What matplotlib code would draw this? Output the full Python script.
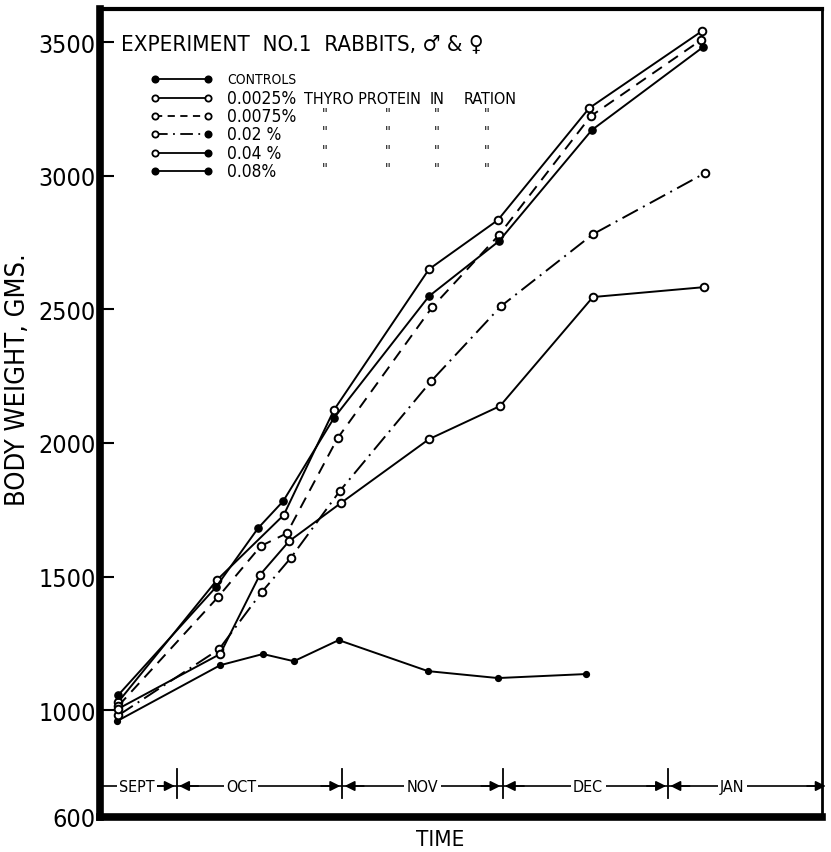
import matplotlib
matplotlib.use('Agg')
import matplotlib.pyplot as plt
from matplotlib.lines import Line2D

# ---------------- data (day 0 = Oct 1) ----------------
month_names = ['SEPT', 'OCT', 'NOV', 'DEC', 'JAN']
month_bounds = [0, 31, 61, 92]
yticks = [600, 1000, 1500, 2000, 2500, 3000, 3500]

controls_days = [-11.2, 8.1, 16.1, 21.9, 30.3, 47.0, 60.1, 76.6]
controls = [959, 1168, 1210, 1183, 1262, 1146, 1120, 1135]

p0025_days = [-11.0, 7.5, 20.0, 29.4, 47.2, 60.1, 77.2, 98.3]
p0025 = [1030, 1487, 1730, 2123, 2650, 2834, 3253, 3541]

p0075_days = [-11.0, 7.7, 15.7, 20.6, 30.1, 47.8, 60.3, 77.5, 98.1]
p0075 = [1015, 1423, 1614, 1662, 2018, 2508, 2778, 3223, 3507]

p02_days = [-11.0, 7.9, 15.9, 21.3, 30.5, 47.6, 60.7, 77.9, 98.9]
p02 = [980, 1228, 1442, 1569, 1820, 2231, 2512, 2781, 3010]

p04_days = [-11.0, 8.1, 15.5, 21.0, 30.7, 47.2, 60.5, 77.9, 98.7]
p04 = [1005, 1210, 1505, 1632, 1775, 2014, 2138, 2546, 2583]

p08_days = [-11.0, 7.3, 15.2, 19.9, 29.4, 47.2, 60.3, 77.7, 98.5]
p08 = [1056, 1460, 1681, 1782, 2093, 2549, 2755, 3171, 3481]

legend_labels = ['CONTROLS', '0.0025%', '0.0075%', '0.02 %', '0.04 %', '0.08%']

plt.rcParams['font.family'] = ['DejaVu Sans']
plt.rcParams['font.stretch'] = 'condensed'

W, H = 831, 853
fig = plt.figure(figsize=(W / 100, H / 100), dpi=100)
fig.patch.set_facecolor('white')

def fx(px):
    return px / W

def fy(py):
    return 1 - py / H

ax = fig.add_axes([fx(100), fy(818), fx(822) - fx(100), fy(10) - fy(818)])
ax.set_xlim(-14.4, 120.8)
ax.set_ylim(600, 3624)

for s, lw in [('left', 5.5), ('bottom', 5.5), ('top', 3.0), ('right', 2.0)]:
    ax.spines[s].set_linewidth(lw)
    ax.spines[s].set_color('black')

ax.set_xticks([])
ax.set_yticks(yticks)
ax.set_yticklabels([str(v) for v in yticks], fontsize=18)
ax.tick_params(axis='y', direction='in', length=10, width=1.5, pad=3)

lw = 1.4
ax.plot(controls_days, controls, color='black', lw=lw, marker='o', ms=4.2,
        mfc='black', mec='black')
ax.plot(p0025_days, p0025, color='black', lw=lw, marker='o', ms=5.5,
        mfc='white', mec='black', mew=1.4)
ax.plot(p0075_days, p0075, color='black', lw=lw, ls=(0, (6, 4)), marker='o', ms=5.5,
        mfc='white', mec='black', mew=1.4)
ax.plot(p02_days, p02, color='black', lw=lw, ls=(0, (9, 3, 1, 3)), marker='o', ms=5.5,
        mfc='white', mec='black', mew=1.4)
ax.plot(p04_days, p04, color='black', lw=lw, marker='o', ms=5.5,
        mfc='white', mec='black', mew=1.4)
ax.plot(p08_days, p08, color='black', lw=lw, marker='o', ms=5.2,
        mfc='black', mec='black')

# ---------------- month band ----------------
yb = 716
ax.plot([-14.4, 119.5], [yb, yb], color='black', lw=1.2, clip_on=False, zorder=3)
for b in month_bounds:
    ax.plot([b, b], [672, 780], color='black', lw=1.3, zorder=3)
label_days = [-7.5, 12, 46, 77, 104]
for name, xd in zip(month_names, label_days):
    ax.text(xd, yb, name, ha='center', va='center', fontsize=11.5, zorder=5,
            bbox=dict(boxstyle='square,pad=0.15', fc='white', ec='none'))
ap = dict(arrowstyle='-|>', mutation_scale=15, lw=1.2, color='black',
          shrinkA=0, shrinkB=0)
for b in month_bounds:
    ax.annotate('', xy=(b - 0.4, yb), xytext=(b - 4, yb), arrowprops=ap, zorder=4)
    ax.annotate('', xy=(b + 0.4, yb), xytext=(b + 4, yb), arrowprops=ap, zorder=4)
ax.annotate('', xy=(121.5, yb), xytext=(118, yb), arrowprops=ap, zorder=4,
            annotation_clip=False)

# ---------------- labels ----------------
fig.text(fx(18), fy(380), 'BODY WEIGHT, GMS.', rotation=90, ha='center', va='center',
         fontsize=19.5)
fig.text(fx(440), fy(840), 'TIME', ha='center', va='center', fontsize=16)
fig.text(fx(121), fy(44), 'EXPERIMENT  NO.1  RABBITS, \u2642 & \u2640', ha='left',
         va='center', fontsize=16)

# ---------------- legend ----------------
rows_y = [80, 99, 117, 135, 154, 172]
styles = [('-', 'black', 'black'), ('-', 'white', 'white'), ((0, (4, 3)), 'white', 'white'),
          ((0, (7, 3, 1, 3)), 'white', 'black'), ('-', 'white', 'black'),
          ('-', 'black', 'black')]
sizes = [10, 12.5, 12.5, 12.5, 12.5, 12.5]
for ry, (ls, lf, rf), lab, fs in zip(rows_y, styles, legend_labels, sizes):
    fig.add_artist(Line2D([fx(155), fx(208)], [fy(ry), fy(ry)], color='black', lw=1.3,
                          ls=ls, transform=fig.transFigure))
    fig.add_artist(Line2D([fx(155)], [fy(ry)], marker='o', ms=4.5, mfc=lf, mec='black',
                          mew=1.3, transform=fig.transFigure))
    fig.add_artist(Line2D([fx(208)], [fy(ry)], marker='o', ms=4.5, mfc=rf, mec='black',
                          mew=1.3, transform=fig.transFigure))
    fig.text(fx(227), fy(ry), lab, ha='left', va='center', fontsize=fs)
fig.text(fx(304), fy(99), 'THYRO PROTEIN', ha='left', va='center', fontsize=11.5)
fig.text(fx(430), fy(99), 'IN', ha='left', va='center', fontsize=11.5)
fig.text(fx(464), fy(99), 'RATION', ha='left', va='center', fontsize=11.5)
for ry in rows_y[2:]:
    for dx in [325, 388, 437, 487]:
        fig.text(fx(dx), fy(ry - 3), '"', ha='center', va='center', fontsize=10)

fig.savefig('out.png', dpi=100, facecolor='white')
